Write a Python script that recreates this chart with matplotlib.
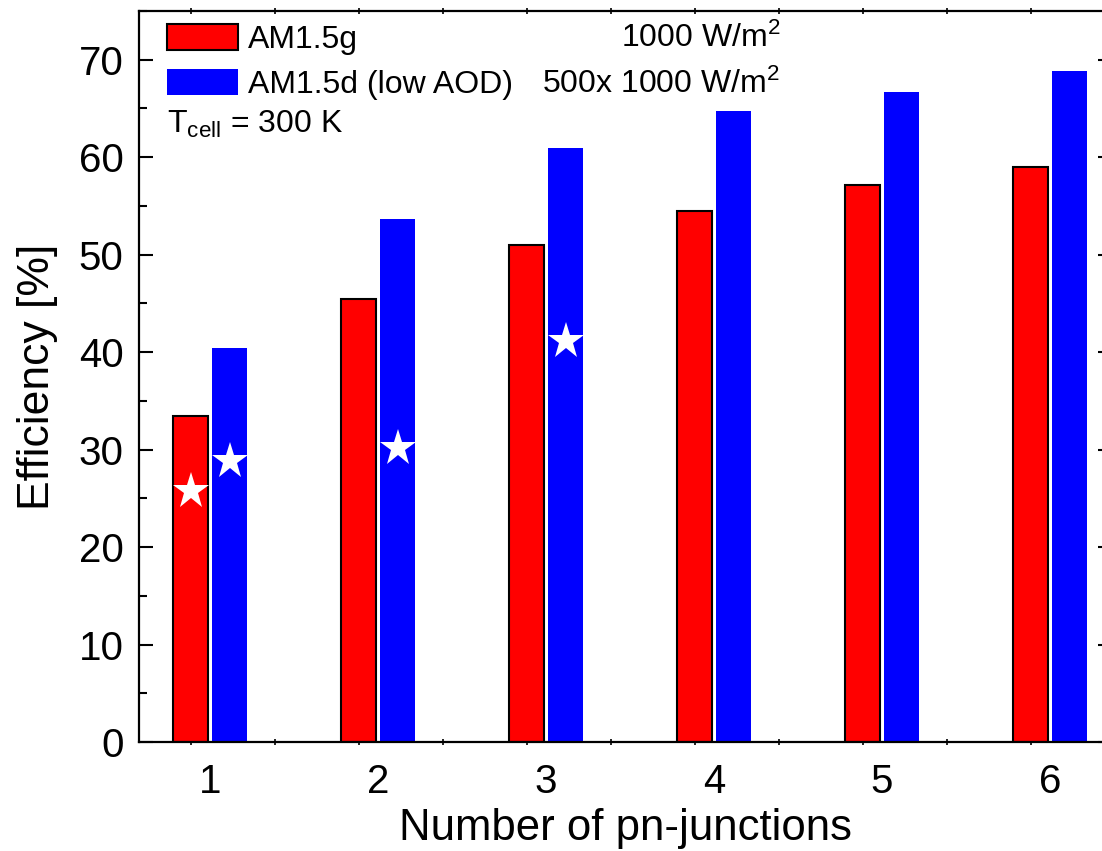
import numpy as np
import matplotlib
matplotlib.use("Agg")
import matplotlib.pyplot as plt
from matplotlib.patches import Patch
from matplotlib.ticker import MultipleLocator, FixedLocator

plt.rcParams['font.family'] = ['Liberation Sans', 'DejaVu Sans']
plt.rcParams['mathtext.fontset'] = 'custom'
plt.rcParams['mathtext.rm'] = 'Liberation Sans'
plt.rcParams['mathtext.it'] = 'Liberation Sans:italic'

# efficiency limits vs number of junctions
junctions = [1, 2, 3, 4, 5, 6]
eff_global = [33.4, 45.4, 51.0, 54.5, 57.1, 59.0]
eff_direct = [40.4, 53.7, 60.9, 64.7, 66.7, 68.8]

# record cells (stars): junction count, series, efficiency
star_junctions = [1, 1, 2, 3]
star_series = ['g', 'd', 'd', 'd']
star_eff = [25.7, 28.8, 30.2, 41.1]

offset = 0.116
width = 0.21

fig = plt.figure(figsize=(11.02, 8.51), dpi=100)
ax = fig.add_axes([0.1261, 0.1281, 0.883, 0.859])

x = np.array(junctions, dtype=float)
ax.bar(x - offset, eff_global, width=width, color='#ff0000',
       edgecolor='black', linewidth=1.5, zorder=2)
ax.bar(x + offset, eff_direct, width=width + 0.004, color='#0000ff',
       edgecolor='none', zorder=2)

sx = np.array(star_junctions, dtype=float)
sx = sx + np.where(np.array(star_series) == 'g', -offset, offset)
ax.plot(sx, star_eff, linestyle='none', marker='*', markersize=28,
        color='white', markeredgewidth=0, zorder=3)

ax.set_xlim(0.577, 6.369)
ax.set_ylim(0, 75)

ax.xaxis.set_major_locator(FixedLocator(junctions))
ax.xaxis.set_minor_locator(FixedLocator(np.arange(1 - offset, 6.4, 0.5)))
ax.yaxis.set_major_locator(MultipleLocator(10))
ax.yaxis.set_minor_locator(MultipleLocator(5))

ax.tick_params(axis='x', which='major', length=0, pad=15, labelsize=29)
ax.tick_params(axis='x', which='minor', direction='inout', length=5,
               width=1.2, top=True, bottom=True)
ax.tick_params(axis='y', which='major', direction='in', length=10,
               width=1.5, pad=11, labelsize=29, left=True, right=True)
ax.tick_params(axis='y', which='minor', direction='in', length=6,
               width=1.5, left=True, right=True)

for sp in ax.spines.values():
    sp.set_linewidth(1.6)

ax.set_xlabel('Number of pn-junctions', fontsize=31.5, labelpad=5)
ax.set_ylabel('Efficiency [%]', fontsize=32, labelpad=15)

handles = [Patch(facecolor='#ff0000', edgecolor='black', linewidth=1.5),
           Patch(facecolor='#0000ff', edgecolor='none')]
ax.legend(handles, ['AM1.5g', 'AM1.5d (low AOD)'], loc='upper left',
          bbox_to_anchor=(0.0288, 0.982), borderaxespad=0, borderpad=0,
          frameon=False, fontsize=23, handlelength=2.22, handleheight=0.88,
          handletextpad=0.32, labelspacing=0.42)

ax.text(0.659, 0.963, r'1000 W/m$\mathregular{^2}$', transform=ax.transAxes,
        ha='right', va='center', fontsize=23)
ax.text(0.659, 0.900, r'500x 1000 W/m$\mathregular{^2}$', transform=ax.transAxes,
        ha='right', va='center', fontsize=23)
ax.text(0.0288, 0.833, r'T$\mathregular{_{cell}}$ = 300 K', transform=ax.transAxes,
        ha='left', va='baseline', fontsize=23)

fig.savefig('out.png', dpi=100)
